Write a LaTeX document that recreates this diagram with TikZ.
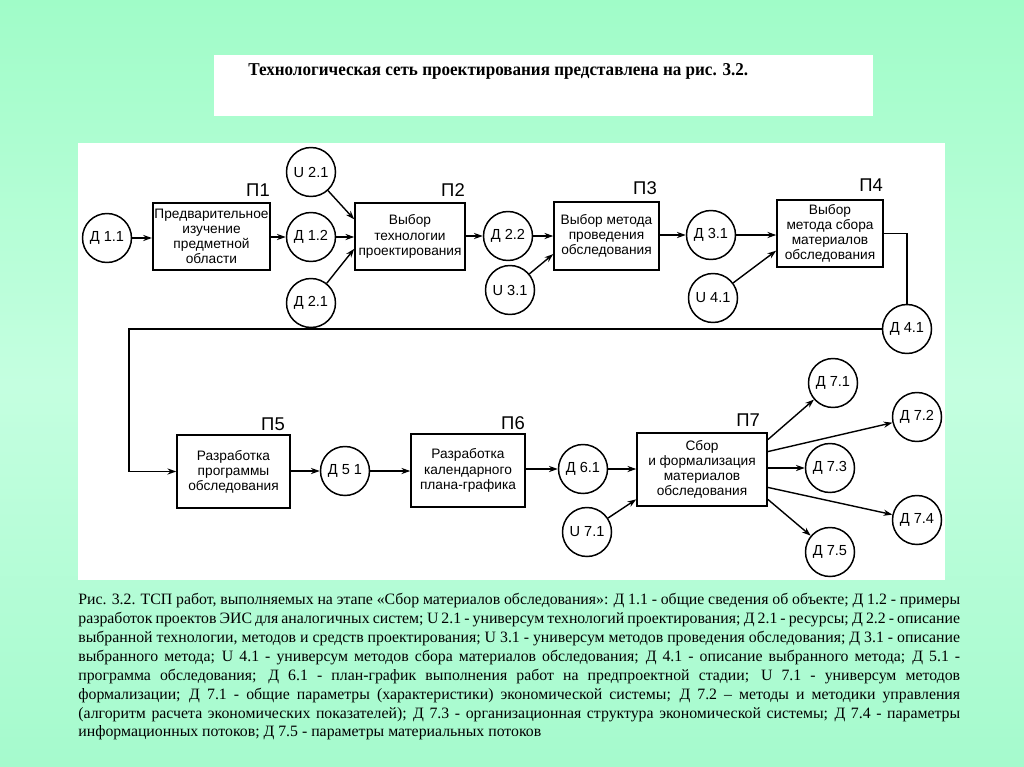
\documentclass[tikz,border=0pt]{standalone}
\usepackage{fontspec}
\setmainfont{Liberation Serif}
\setsansfont{Liberation Sans}
\usetikzlibrary{arrows.meta,calc}
\definecolor{bgtop}{RGB}{160,252,200}
\definecolor{bgmid}{RGB}{196,255,224}
\definecolor{bgbot}{RGB}{165,250,205}
\begin{document}
\begin{tikzpicture}[x=0.02cm,y=-0.02cm,
  circ/.style={circle,draw,line width=0.85pt,minimum size=0.98cm,inner sep=0pt,font=\sffamily\fontsize{8.3}{9}\selectfont},
  proc/.style={rectangle,draw,line width=0.9pt,align=center,inner sep=1pt,font=\sffamily\fontsize{7.8}{8.6}\selectfont},
  plabel/.style={font=\sffamily\fontsize{10.5}{12}\selectfont},
  arr/.style={-{Stealth[length=5pt,width=3.5pt]},line width=0.8pt},
  ln/.style={line width=0.8pt}]
% background
\shade[top color=bgtop,bottom color=bgbot,middle color=bgmid] (0,0) rectangle (1024,767);
\useasboundingbox (0,0) rectangle (1024,767);
\fill[white] (214,55) rectangle (873,116);
\fill[white] (78,143) rectangle (945,580);
\node[anchor=base west,inner sep=0pt,font=\fontsize{10.3}{12}\selectfont\bfseries] (title) at (248,76) {\scalebox{0.943}[1]{Технологическая сеть проектирования представлена на рис. 3.2.}};
% boxes
\node[proc,minimum width=2.34cm,minimum height=1.34cm] (p1) at (211.5,236.5) {Предварительное\\изучение\\предметной\\области};
\node[proc,minimum width=2.2cm,minimum height=1.34cm] (p2) at (410,236.5) {Выбор\\технологии\\проектирования};
\node[proc,minimum width=2.1cm,minimum height=1.36cm] (p3) at (606.5,236) {Выбор метода\\проведения\\обследования};
\node[proc,minimum width=2.12cm,minimum height=1.34cm] (p4) at (830,233.5) {Выбор\\метода сбора\\материалов\\обследования};
\node[proc,minimum width=2.26cm,minimum height=1.46cm] (p5) at (233.5,471.5) {Разработка\\программы\\обследования};
\node[proc,minimum width=2.28cm,minimum height=1.46cm] (p6) at (468,470.5) {Разработка\\календарного\\плана-графика};
\node[proc,minimum width=2.6cm,minimum height=1.46cm] (p7) at (702,469.5) {Сбор\\и формализация\\материалов\\обследования};
% labels
\node[plabel] (l1) at (258,190) {П1};
\node[plabel] (l2) at (453,190) {П2};
\node[plabel] (l3) at (645,188) {П3};
\node[plabel] (l4) at (871,185) {П4};
\node[plabel] (l5) at (273,424) {П5};
\node[plabel] (l6) at (513,423) {П6};
\node[plabel] (l7) at (748,420) {П7};
% circles
\node[circ] (d11) at (107,238) {Д 1.1};
\node[circ] (d12) at (311,237) {Д 1.2};
\node[circ] (u21) at (311,172) {U 2.1};
\node[circ] (d21) at (311,303) {Д 2.1};
\node[circ] (d22) at (508,236) {Д 2.2};
\node[circ] (u31) at (510,290) {U 3.1};
\node[circ] (d31) at (711,235) {Д 3.1};
\node[circ] (u41) at (713,298) {U 4.1};
\node[circ] (d41) at (907,329) {Д 4.1};
\node[circ] (d51) at (345,471) {Д 5 1};
\node[circ] (d61) at (583,469) {Д 6.1};
\node[circ] (u71) at (587,532) {U 7.1};
\node[circ] (d71) at (833,383) {Д 7.1};
\node[circ] (d72) at (917,417) {Д 7.2};
\node[circ] (d73) at (830,468) {Д 7.3};
\node[circ] (d74) at (917,520) {Д 7.4};
\node[circ] (d75) at (830,552) {Д 7.5};
\coordinate (cL) at (129,334);
% connectors row 1
\draw[arr] (d11.east) -- (d11.east -| p1.west);
\draw[arr] (p1.east |- d12) -- (d12.west);
\draw[arr] (d12.east) -- (d12.east -| p2.west);
\draw[arr] (u21) -- ($(p2.north west)!0.25!(p2.south west)$);
\draw[arr] (d21) -- ($(p2.north west)!0.68!(p2.south west)$);
\draw[arr] (p2.east |- d22) -- (d22.west);
\draw[arr] (d22.east) -- (d22.east -| p3.west);
\draw[arr] (u31) -- ($(p3.north west)!0.76!(p3.south west)$);
\draw[arr] (p3.east |- d31) -- (d31.west);
\draw[arr] (d31.east) -- (d31.east -| p4.west);
\draw[arr] (u41) -- ($(p4.north west)!0.75!(p4.south west)$);
\draw[ln] (p4.east) -| (d41.north);
\draw[arr] (d41.west) -- (d41.west -| cL) |- (p5.west);
% row 2
\draw[arr] (p5.east |- d51) -- (d51.west);
\draw[arr] (d51.east) -- (d51.east -| p6.west);
\draw[arr] (p6.east |- d61) -- (d61.west);
\draw[arr] (d61.east) -- (d61.east -| p7.west);
\draw[arr] (u71) -- ($(p7.north west)!0.9!(p7.south west)$);
\draw[arr] ($(p7.north east)!0.1!(p7.south east)$) -- (d71);
\draw[arr] ($(p7.north east)!0.26!(p7.south east)$) -- (d72);
\draw[arr] (p7.east |- d73) -- (d73.west);
\draw[arr] ($(p7.north east)!0.74!(p7.south east)$) -- (d74);
\draw[arr] ($(p7.north east)!0.9!(p7.south east)$) -- (d75);
% caption
\node[anchor=north west,inner sep=0pt,text width=17.64cm,align=justify,font=\fontsize{9}{10.75}\selectfont] (cap) at (78,593) {Рис. 3.2. ТСП работ, выполняемых на этапе «Сбор материалов обследования»: Д 1.1 - общие сведения об объекте; Д 1.2 - примеры\linebreak
разработок проектов ЭИС для аналогичных систем; U 2.1 - универсум технологий проектирования; Д 2.1 - ресурсы; Д 2.2 - описание\linebreak
выбранной технологии, методов и средств проектирования; U 3.1 - универсум методов проведения обследования; Д 3.1 - описание\linebreak
выбранного метода; U 4.1 - универсум методов сбора материалов обследования; Д 4.1 - описание выбранного метода; Д 5.1 -\linebreak
программа обследования; Д 6.1 - план-график выполнения работ на предпроектной стадии; U 7.1 - универсум методов\linebreak
формализации; Д 7.1 - общие параметры (характеристики) экономической системы; Д 7.2 -- методы и методики управления\linebreak
(алгоритм расчета экономических показателей); Д 7.3 - организационная структура экономической системы; Д 7.4 - параметры\linebreak
информационных потоков; Д 7.5 - параметры материальных потоков};
\end{tikzpicture}
\end{document}
